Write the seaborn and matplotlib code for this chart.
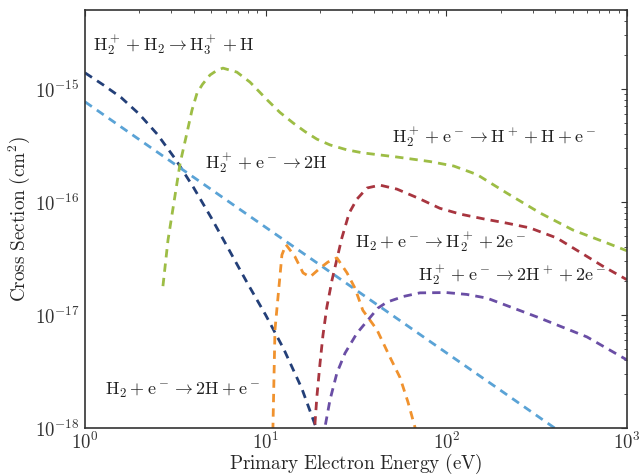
import numpy as np
import pandas as pd
import matplotlib
matplotlib.use("Agg")
import matplotlib.pyplot as plt
import seaborn as sns
from matplotlib.ticker import LogLocator, NullFormatter

# ---- data (energy in eV, cross section in cm^2) ----
h3_x = [1.0, 1.259, 1.585, 1.995, 2.512, 3.162, 3.981, 5.012, 6.31, 7.943, 10.0,
        12.59, 15.85, 19.05, 20.0]
h3_y = [1.39e-15, 1.09e-15, 8.4e-16, 6.0e-16, 3.98e-16, 2.4e-16, 1.35e-16, 7.2e-17,
        3.7e-17, 1.9e-17, 1.0e-17, 5.0e-18, 2.24e-18, 1.0e-18, 8.5e-19]

dr_x = [1.0, 2.0, 5.0, 10.0, 20.0, 50.0, 100.0, 200.0, 420.0]
dr_y = [7.7e-16, 3.56e-16, 1.29e-16, 5.97e-17, 2.77e-17, 1.0e-17, 4.63e-18, 2.15e-18, 9.4e-19]

dis_x = [2.70, 2.88, 3.36, 3.63, 3.91, 4.17, 4.47, 4.92, 5.37, 5.8, 6.93, 8.19, 10.2,
         12.0, 14.2, 16.5, 19.2, 22.7, 28.0, 34.5, 53.3, 81.2, 110.0, 147.7, 216.0,
         330.0, 502.0, 774.0, 1000.0]
dis_y = [1.8e-17, 4.6e-17, 2.2e-16, 3.8e-16, 6.5e-16, 9.2e-16, 1.1e-15, 1.33e-15,
         1.46e-15, 1.53e-15, 1.41e-15, 1.15e-15, 8.0e-16, 6.2e-16, 5.0e-16, 4.2e-16,
         3.6e-16, 3.2e-16, 2.9e-16, 2.72e-16, 2.5e-16, 2.28e-16, 2.08e-16, 1.75e-16,
         1.2e-16, 8.0e-17, 5.65e-17, 4.34e-17, 3.7e-17]

ion_x = [18.5, 18.75, 19.2, 20.0, 20.75, 21.8, 23.3, 26.4, 29.0, 32.0, 36.4, 42.9,
         53.3, 70.0, 92.0, 120.0, 160.0, 216.0, 290.0, 409.0, 549.0, 736.0, 1000.0]
ion_y = [8.0e-19, 1.1e-18, 1.88e-18, 3.76e-18, 6.6e-18, 1.17e-17, 2.04e-17, 4.8e-17,
         8.0e-17, 1.06e-16, 1.33e-16, 1.41e-16, 1.3e-16, 1.08e-16, 8.8e-17, 7.8e-17,
         7.1e-17, 6.5e-17, 5.9e-17, 4.8e-17, 3.6e-17, 2.7e-17, 2.05e-17]

dh_x = [10.8, 10.97, 11.26, 12.3, 12.95, 14.5, 16.1, 17.6, 20.0, 22.1, 24.8, 28.2,
        31.2, 34.5, 41.3, 48.7, 55.4, 61.3, 67.0, 69.0]
dh_y = [7.0e-19, 1.0e-18, 7.4e-18, 3.4e-17, 4.2e-17, 3.3e-17, 2.36e-17, 2.17e-17,
        2.6e-17, 2.94e-17, 3.2e-17, 2.36e-17, 1.73e-17, 1.1e-17, 7.4e-18, 4.25e-18,
        2.8e-18, 1.7e-18, 1.02e-18, 8.5e-19]

di_x = [20.8, 21.3, 22.7, 24.8, 27.5, 32.0, 41.8, 46.9, 58.0, 71.4, 100.0, 130.0,
        168.0, 318.0, 600.0, 1000.0]
di_y = [8.0e-19, 1.02e-18, 1.77e-18, 3.07e-18, 4.6e-18, 6.9e-18, 1.15e-17, 1.3e-17,
        1.46e-17, 1.57e-17, 1.58e-17, 1.52e-17, 1.41e-17, 9.6e-18, 6.4e-18, 4.0e-18]

series = [
    (h3_x, h3_y, "#233f78"),
    (dr_x, dr_y, "#5aa3d6"),
    (dis_x, dis_y, "#9dbd45"),
    (ion_x, ion_y, "#a8353f"),
    (dh_x, dh_y, "#f0922e"),
    (di_x, di_y, "#6a4ea5"),
]

labels = [
    (r"$\mathrm{H}_2^+ + \mathrm{H}_2 \rightarrow \mathrm{H}_3^+ + \mathrm{H}$", 1.107, 2.45e-15),
    (r"$\mathrm{H}_2^+ + \mathrm{e}^- \rightarrow 2\mathrm{H}$", 4.61, 2.2e-16),
    (r"$\mathrm{H}_2^+ + \mathrm{e}^- \rightarrow \mathrm{H}^+ + \mathrm{H} + \mathrm{e}^-$", 50.0, 3.76e-16),
    (r"$\mathrm{H}_2 + \mathrm{e}^- \rightarrow \mathrm{H}_2^+ + 2\mathrm{e}^-$", 31.2, 4.43e-17),
    (r"$\mathrm{H}_2^+ + \mathrm{e}^- \rightarrow 2\mathrm{H}^+ + 2\mathrm{e}^-$", 69.7, 2.26e-17),
    (r"$\mathrm{H}_2 + \mathrm{e}^- \rightarrow 2\mathrm{H} + \mathrm{e}^-$", 1.29, 2.17e-18),
]

sns.set_style("white")
plt.rcParams["mathtext.fontset"] = "cm"
plt.rcParams["font.family"] = ["serif"]
plt.rcParams["font.serif"] = ["cmr10", "DejaVu Serif"]
plt.rcParams["axes.formatter.use_mathtext"] = True

fig = plt.figure(figsize=(6.39, 4.75), dpi=100)
ax = fig.add_axes([85 / 639, 1 - 428 / 475, (627 - 85) / 639, (428 - 10) / 475])

for xs, ys, col in series:
    df = pd.DataFrame({"x": xs, "y": ys})
    sns.lineplot(data=df, x="x", y="y", ax=ax, color=col, lw=2.0, sort=False,
                 linestyle=(0, (3, 2.2)), estimator=None)

ax.set_xscale("log")
ax.set_yscale("log")
ax.set_xlim(1, 1000)
ax.set_ylim(1e-18, 5e-15)

for txt, x, y in labels:
    ax.text(x, y, txt, ha="left", va="center", fontsize=13, color="#222222")

ax.set_xlabel(r"$\mathrm{Primary\ Electron\ Energy\ (eV)}$", fontsize=13.8, labelpad=-1)
ax.set_ylabel(r"$\mathrm{Cross\ Section\ (cm^2)}$", fontsize=13.8, labelpad=2)

ax.tick_params(which="both", direction="in", top=True, right=True, colors="#333333",
               labelsize=13.5)
ax.tick_params(which="major", length=4, width=0.8)
ax.tick_params(which="minor", length=2, width=0.6)
ax.tick_params(axis="x", which="major", pad=3)
ax.tick_params(axis="y", which="major", pad=4)
ax.xaxis.set_minor_locator(LogLocator(base=10, subs=np.arange(2, 10), numticks=20))
ax.yaxis.set_minor_locator(LogLocator(base=10, subs=np.arange(2, 10), numticks=20))
ax.xaxis.set_minor_formatter(NullFormatter())
ax.yaxis.set_minor_formatter(NullFormatter())
for s in ax.spines.values():
    s.set_color("#333333")
    s.set_linewidth(1.2)
    s.set_visible(True)

fig.savefig("out.png", dpi=100)
